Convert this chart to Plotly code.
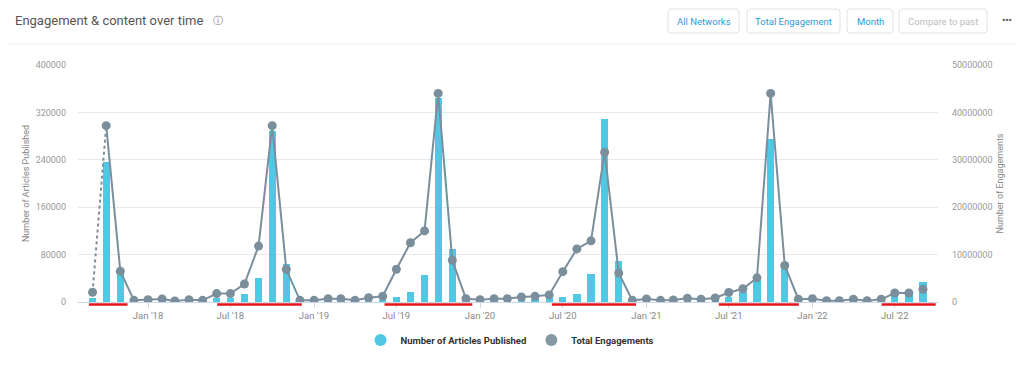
import plotly.graph_objects as go
import pandas as pd

# ---- data ----
months = pd.date_range("2017-09-01", "2022-09-01", freq="MS").strftime("%Y-%m-%d").tolist()

articles = [
    7400, 237000, 54000, 1500,
    1200, 1500, 1000, 1200, 1500, 6800, 6800, 13000, 40000, 288000, 64000, 1500,
    1500, 2000, 2000, 1500, 3500, 4000, 8500, 17000, 46000, 345000, 89000, 1500,
    1500, 2000, 2500, 5000, 5000, 8500, 8500, 14000, 47000, 309000, 70000, 1500,
    1500, 1500, 2000, 2500, 2500, 3000, 8500, 17000, 37000, 275000, 59000, 1500,
    1500, 1200, 1200, 2000, 1500, 2500, 14000, 14000, 34000,
]

engagements = [
    2050000, 37200000, 6500000, 350000,
    500000, 640000, 200000, 500000, 350000, 1770000, 1770000, 3800000, 11800000, 37200000, 6900000, 350000,
    350000, 700000, 700000, 350000, 900000, 1200000, 6900000, 12500000, 15000000, 44000000, 8800000, 700000,
    500000, 700000, 700000, 1060000, 1200000, 1500000, 6400000, 11200000, 12900000, 31600000, 6100000, 350000,
    640000, 350000, 420000, 780000, 570000, 850000, 2000000, 2800000, 5100000, 44000000, 7700000, 600000,
    700000, 280000, 280000, 570000, 280000, 570000, 1900000, 1900000, 2700000,
]

left_ticks = [0, 80000, 160000, 240000, 320000, 400000]
right_ticks = [0, 10000000, 20000000, 30000000, 40000000, 50000000]

highlight_ranges = [
    ("2017-08-24", "2017-11-17"),
    ("2018-06-02", "2018-12-05"),
    ("2019-06-05", "2019-12-15"),
    ("2020-06-07", "2020-12-09"),
    ("2021-06-09", "2021-12-02"),
    ("2022-06-02", "2022-09-29"),
]

buttons = [
    ("All Networks", 668, 739, "#2b9bd8"),
    ("Total Engagement", 747, 840, "#2b9bd8"),
    ("Month", 847, 893, "#2b9bd8"),
    ("Compare to past", 899, 987, "#bdbdbd"),
]

# ---- layout geometry (screen pixels) ----
W, H = 1024, 369
OFF = 8  # default page body margin
PL, PR, PT, PB = 78, 938, 65, 302


def px(x):
    return (x - PL) / (PR - PL)


def py(y):
    return (PB - y) / (PB - PT)


def rounded_rect(x0, x1, y0, y1, r=3):
    X0, X1, Y0, Y1 = px(x0), px(x1), py(y1), py(y0)
    rx = r / (PR - PL)
    ry = r / (PB - PT)
    return (f"M {X0 + rx},{Y0} L {X1 - rx},{Y0} Q {X1},{Y0} {X1},{Y0 + ry} "
            f"L {X1},{Y1 - ry} Q {X1},{Y1} {X1 - rx},{Y1} L {X0 + rx},{Y1} "
            f"Q {X0},{Y1} {X0},{Y1 - ry} L {X0},{Y0 + ry} Q {X0},{Y0} {X0 + rx},{Y0} Z")


BAR_COLOR = "#50c8e4"
LINE_COLOR = "#7b8e9c"
FONT = "Roboto, Helvetica, Arial, sans-serif"

fig = go.Figure()

fig.add_trace(go.Bar(
    x=months, y=articles, name="Number of Articles Published",
    marker=dict(color=BAR_COLOR, line=dict(width=0)),
    width=16 * 24 * 3600 * 1000, showlegend=False, yaxis="y",
))

# dotted first segment
fig.add_trace(go.Scatter(
    x=months[0:2], y=engagements[0:2], mode="lines", yaxis="y2",
    line=dict(color=LINE_COLOR, width=2, dash="dot"), showlegend=False,
))
# solid main line
fig.add_trace(go.Scatter(
    x=months[1:-1], y=engagements[1:-1], mode="lines", yaxis="y2",
    line=dict(color=LINE_COLOR, width=2), showlegend=False,
))
# markers
fig.add_trace(go.Scatter(
    x=months, y=engagements, mode="markers", yaxis="y2",
    marker=dict(color=LINE_COLOR, size=9), showlegend=False,
))

# legend entries
fig.add_trace(go.Scatter(x=[None], y=[None], mode="markers", name="Number of Articles Published",
                         marker=dict(color=BAR_COLOR, size=10, symbol="circle")))
fig.add_trace(go.Scatter(x=[None], y=[None], mode="markers", name="Total Engagements",
                         marker=dict(color="#8497a4", size=10, symbol="circle")))

shapes = []
for a, b in highlight_ranges:
    shapes.append(dict(type="line", xref="x", yref="paper", x0=a, x1=b, y0=-0.011, y1=-0.011,
                       line=dict(color="#e8141b", width=2.5), layer="above"))
# header separator
shapes.append(dict(type="line", xref="paper", yref="paper", x0=px(0), x1=px(W), y0=py(44), y1=py(44),
                   line=dict(color="#ececec", width=1)))

annotations = [
    dict(text="Engagement &amp; content over time", xref="paper", yref="paper", x=px(13), y=py(20),
         xanchor="left", yanchor="middle", showarrow=False, font=dict(size=13, color="#555555", family=FONT)),
    dict(text="ⓘ", xref="paper", yref="paper", x=px(218), y=py(20),
         xanchor="center", yanchor="middle", showarrow=False, font=dict(size=10, color="#777777", family="DejaVu Sans")),
    dict(text="<b>•••</b>", xref="paper", yref="paper", x=px(1007), y=py(20),
         xanchor="center", yanchor="middle", showarrow=False, font=dict(size=9, color="#555555", family=FONT)),
]
for label, x0, x1, col in buttons:
    shapes.append(dict(type="path", xref="paper", yref="paper", path=rounded_rect(x0, x1, 9, 33),
                       line=dict(color="#e2e2e2", width=1), fillcolor="white"))
    annotations.append(dict(text=label, xref="paper", yref="paper", x=px((x0 + x1) / 2), y=py(21),
                            xanchor="center", yanchor="middle", showarrow=False,
                            font=dict(size=9.5, color=col, family=FONT)))

fig.update_layout(
    width=W - OFF, height=H - OFF,
    margin=dict(l=PL - OFF, r=W - PR, t=PT - OFF, b=H - PB, pad=0),
    paper_bgcolor="white", plot_bgcolor="white",
    font=dict(family=FONT, color="#999999", size=9),
    bargap=0,
    xaxis=dict(
        type="date", range=["2017-07-31", "2022-10-04"],
        tickformat="%b '%y", dtick="M6", tick0="2018-01-01",
        showgrid=False, showline=True, linecolor="#ccd6eb", linewidth=1,
        ticks="outside", ticklen=5, tickcolor="#ccd6eb",
        tickfont=dict(size=9.5, color="#888888"), zeroline=False,
    ),
    yaxis=dict(
        range=[0, 400000], tickvals=left_ticks, tickformat="d",
        showgrid=True, gridcolor="#e9e9e9", gridwidth=1, zeroline=False,
        tickfont=dict(size=9, color="#999999"), ticks="", ticklabelstandoff=11,
        title=dict(text="Number of Articles Published", font=dict(size=9, color="#888888"), standoff=4),
    ),
    yaxis2=dict(
        range=[0, 50000000], tickvals=right_ticks, tickformat="d",
        overlaying="y", side="right", showgrid=False, zeroline=False,
        tickfont=dict(size=9, color="#999999"), ticks="", ticklabelstandoff=13,
        title=dict(text="Number of Engagements", font=dict(size=9, color="#888888"), standoff=5),
    ),
    legend=dict(orientation="h", x=px(510), xanchor="center", y=py(340), yanchor="middle",
                font=dict(size=9.5, color="#333333", family=FONT, weight="bold"), itemsizing="constant",
                itemwidth=30, traceorder="normal"),
    shapes=shapes, annotations=annotations,
)

fig.write_html("out.html")
